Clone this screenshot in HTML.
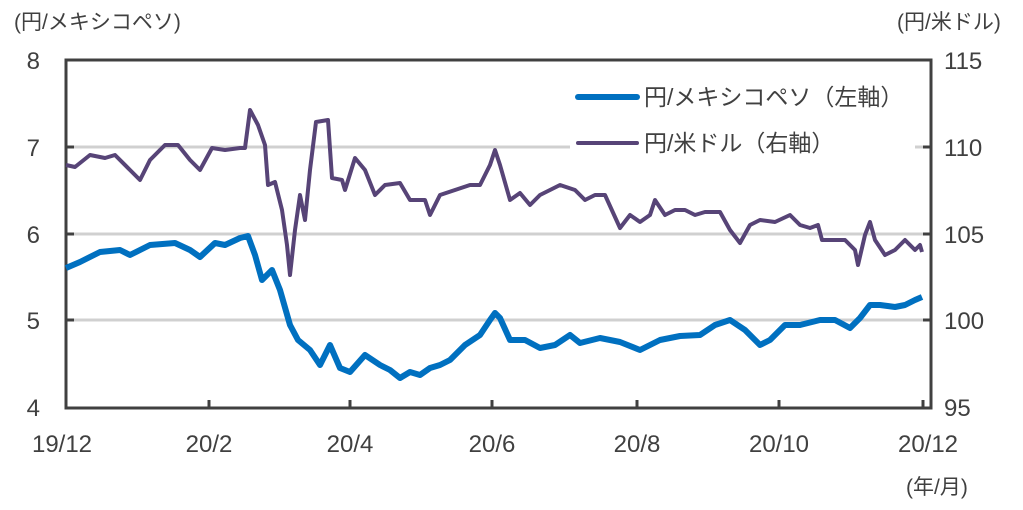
<!DOCTYPE html>
<html><head><meta charset="utf-8"><style>
body{margin:0;background:#fff;width:1023px;height:505px;overflow:hidden}
svg text{font-family:"Liberation Sans","Noto Sans CJK JP",sans-serif;fill:#404040}
</style></head><body>
<svg width="1023" height="505" xmlns="http://www.w3.org/2000/svg">
<g stroke="#d0d0d0" stroke-width="3">
<line x1="66" y1="147" x2="931" y2="147"/>
<line x1="66" y1="234" x2="931" y2="234"/>
<line x1="66" y1="320" x2="931" y2="320"/>
</g>
<rect x="570" y="78" width="345" height="90" fill="#fff"/>
<g stroke="#404040" stroke-width="3" fill="none">
<rect x="66" y="60" width="865" height="348"/>
<line x1="66" y1="147" x2="74" y2="147"/><line x1="66" y1="234" x2="74" y2="234"/><line x1="66" y1="320" x2="74" y2="320"/>
<line x1="931" y1="147" x2="923" y2="147"/><line x1="931" y1="234" x2="923" y2="234"/><line x1="931" y1="320" x2="923" y2="320"/>
<line x1="209" y1="408" x2="209" y2="400"/><line x1="350" y1="408" x2="350" y2="400"/><line x1="492" y1="408" x2="492" y2="400"/><line x1="637" y1="408" x2="637" y2="400"/><line x1="779" y1="408" x2="779" y2="400"/><line x1="923" y1="408" x2="923" y2="400"/>
</g>
<polyline fill="none" stroke="#574477" stroke-width="4" stroke-linejoin="round" points="66,165 75,167 90,155 105,158 115,155 130,170 140,180 150,160 165,145 178,145 190,160 200,170 212,148 225,150 240,148 245,148 250,110 258,125 265,145 268,185 275,182 282,210 287,245 290,275 295,230 300,195 305,220 310,170 316,122 328,120 332,178 342,180 345,190 355,158 365,170 375,195 385,185 400,183 410,200 425,200 430,215 440,195 455,190 470,185 480,185 490,165 495,150 500,165 510,200 520,193 530,205 540,195 550,190 560,185 575,190 585,200 595,195 605,195 620,228 630,215 640,222 650,215 655,200 665,215 675,210 685,210 695,215 705,212 720,212 730,230 740,243 750,225 760,220 775,222 790,215 800,225 810,228 818,225 822,240 830,240 845,240 855,250 858,265 865,235 870,222 875,240 885,255 895,250 905,240 915,250 920,245 922,252"/>
<polyline fill="none" stroke="#0070c0" stroke-width="6" stroke-linejoin="round" points="66,268 80,262 100,252 120,250 130,255 150,245 175,243 190,250 200,257 215,243 225,245 240,238 248,236 255,255 262,280 272,270 280,290 290,325 298,340 310,350 320,365 330,345 340,368 350,372 365,355 380,365 390,370 400,378 410,372 420,375 430,368 440,365 450,360 465,345 480,335 490,320 495,313 500,318 510,340 525,340 540,348 555,345 570,335 580,343 600,338 620,342 640,350 660,340 680,336 700,335 715,325 730,320 745,330 760,345 770,340 785,325 800,325 820,320 835,320 850,328 860,318 870,305 880,305 895,307 905,305 915,300 922,297"/>
<line x1="578" y1="97" x2="637" y2="97" stroke="#0070c0" stroke-width="6" stroke-linecap="round"/>
<line x1="578" y1="143" x2="637" y2="143" stroke="#574477" stroke-width="4" stroke-linecap="round"/>
<text x="644" y="105" font-size="23">円/メキシコペソ（左軸）</text>
<text x="644" y="151" font-size="23">円/米ドル（右軸）</text>
<g font-size="24" text-anchor="end">
<text x="40" y="69">8</text><text x="40" y="156">7</text><text x="40" y="243">6</text><text x="40" y="329">5</text><text x="40" y="416">4</text>
</g>
<g font-size="24">
<text x="944" y="69">115</text><text x="944" y="156">110</text><text x="944" y="243">105</text><text x="944" y="329">100</text><text x="944" y="416">95</text>
</g>
<g font-size="24" text-anchor="middle">
<text x="62" y="452">19/12</text><text x="209" y="452">20/2</text><text x="350" y="452">20/4</text><text x="492" y="452">20/6</text><text x="637" y="452">20/8</text><text x="779" y="452">20/10</text><text x="928" y="452">20/12</text>
</g>
<text x="14" y="29" font-size="21">(円/メキシコペソ)</text>
<text x="897" y="29" font-size="21">(円/米ドル)</text>
<text x="906" y="494" font-size="21">(年/月)</text>
</svg>
</body></html>
